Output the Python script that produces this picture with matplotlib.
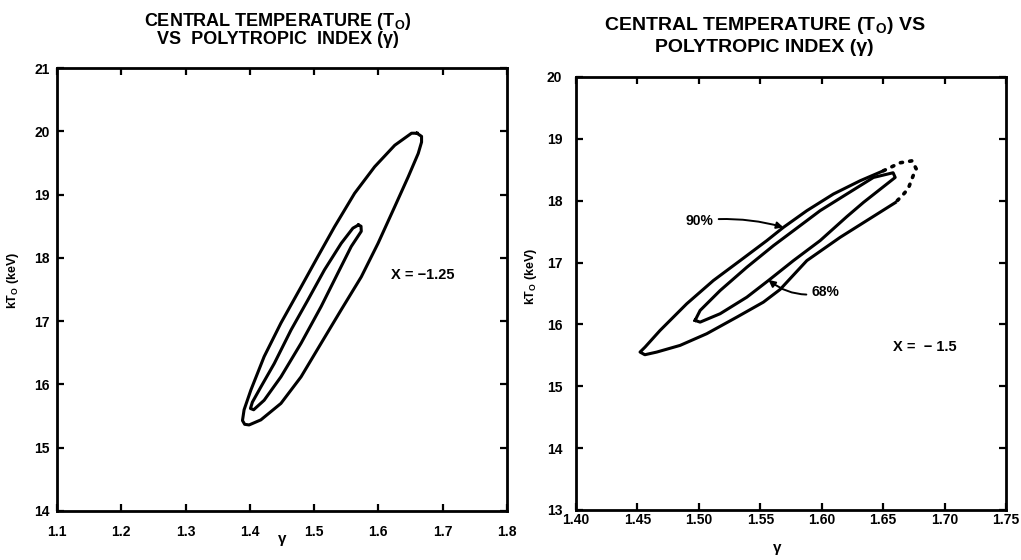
"""
Contornos de confianca: temperatura central kT0 vs indice politropico gamma.
Gera out.png (1021x560).
"""

import matplotlib
matplotlib.use("Agg")
import matplotlib.pyplot as plt

plt.rcParams["font.family"] = ["Liberation Sans", "DejaVu Sans"]
plt.rcParams["font.weight"] = "bold"
plt.rcParams["mathtext.fontset"] = "custom"
plt.rcParams["mathtext.bf"] = "Liberation Sans:bold"
plt.rcParams["mathtext.rm"] = "Liberation Sans:bold"

# --- painel esquerdo (X = -1.25) ---
left_xticks = [1.1, 1.2, 1.3, 1.4, 1.5, 1.6, 1.7, 1.8]
left_yticks = [14, 15, 16, 17, 18, 19, 20, 21]

left_outer_gamma = [1.6600, 1.6516, 1.6255, 1.5942, 1.563, 1.5317, 1.5058, 1.4797,
                    1.4484, 1.4223, 1.4016, 1.3911, 1.3886, 1.3920, 1.3989, 1.4172,
                    1.4484, 1.4797, 1.5109, 1.5422, 1.5734, 1.5995, 1.6255, 1.6464,
                    1.662, 1.6672, 1.6672, 1.6600]
left_outer_kT = [19.97, 19.97, 19.78, 19.44, 19.02, 18.49, 18.02, 17.54,
                 16.97, 16.44, 15.91, 15.60, 15.43, 15.37, 15.36, 15.44,
                 15.70, 16.12, 16.65, 17.18, 17.70, 18.23, 18.81, 19.28,
                 19.65, 19.83, 19.92, 19.97]

left_inner_gamma = [1.5690, 1.5604, 1.5422, 1.5161, 1.4901, 1.4641, 1.438, 1.4172,
                    1.4040, 1.4010, 1.4060, 1.4223, 1.4484, 1.4797, 1.5109, 1.537,
                    1.5578, 1.5734, 1.5730, 1.5690]
left_inner_kT = [18.52, 18.47, 18.23, 17.81, 17.33, 16.86, 16.33, 15.96,
                 15.72, 15.62, 15.60, 15.75, 16.12, 16.65, 17.23, 17.76,
                 18.18, 18.42, 18.50, 18.52]

# --- painel direito (X = -1.5) ---
right_xticks = [1.40, 1.45, 1.50, 1.55, 1.60, 1.65, 1.70, 1.75]
right_yticks = [13, 14, 15, 16, 17, 18, 19, 20]

# 90%: parte continua (borda inferior ate a ponta esquerda, volta pela superior)
right_outer_gamma = [1.6598, 1.6150, 1.5879, 1.5661, 1.5525, 1.5309, 1.5064, 1.4847,
                     1.4657, 1.4560, 1.4521, 1.4562, 1.4684, 1.4901, 1.5118, 1.5336,
                     1.5553, 1.5688, 1.5879, 1.6095, 1.6313, 1.6502]
right_outer_kT = [17.968, 17.408, 17.032, 16.565, 16.360, 16.118, 15.850, 15.661,
                  15.553, 15.51, 15.553, 15.634, 15.903, 16.334, 16.710, 17.032,
                  17.355, 17.569, 17.839, 18.108, 18.323, 18.484]
# 90%: ponta pontilhada
right_cap_gamma = [1.6502, 1.6638, 1.6736, 1.6769, 1.6744, 1.6704, 1.6655, 1.6598]
right_cap_kT = [18.484, 18.613, 18.645, 18.516, 18.403, 18.194, 18.081, 17.968]

right_inner_gamma = [1.4969, 1.5010, 1.5173, 1.5390, 1.5607, 1.5770, 1.5987, 1.6204,
                     1.6421, 1.6581, 1.6598, 1.6340, 1.6204, 1.5987, 1.5770, 1.5566,
                     1.5390, 1.5173, 1.5010, 1.4969]
right_inner_kT = [16.065, 16.226, 16.548, 16.924, 17.274, 17.516, 17.839, 18.108,
                  18.376, 18.452, 18.376, 17.973, 17.742, 17.355, 17.032, 16.710,
                  16.440, 16.173, 16.037, 16.065]

LW = 2.2
TICK_FS = 10


def style_axes(ax, xticks, yticks, xlabels, xpad, ypad):
    ax.set_xlim(xticks[0], xticks[-1])
    ax.set_ylim(yticks[0], yticks[-1])
    ax.set_xticks(xticks)
    ax.set_xticklabels(xlabels)
    ax.set_yticks(yticks)
    ax.set_yticklabels([str(v) for v in yticks])
    ax.tick_params(direction="in", top=True, right=True, length=5, width=1.6,
                   labelsize=TICK_FS)
    ax.tick_params(axis="x", pad=xpad)
    ax.tick_params(axis="y", pad=ypad)
    for s in ax.spines.values():
        s.set_linewidth(2.0)
    ax.set_xlabel("γ", fontsize=11, fontweight="bold")
    ax.set_ylabel(r"kT$_\mathbf{O}$ (keV)", fontsize=9, fontweight="bold")


fig = plt.figure(figsize=(10.21, 5.6), dpi=100)

# painel esquerdo
ax1 = fig.add_axes([0.0558, 0.0875, 0.4407, 0.791])
ax1.plot(left_outer_gamma, left_outer_kT, color="k", lw=LW)
ax1.plot(left_inner_gamma, left_inner_kT, color="k", lw=LW)
style_axes(ax1, left_xticks, left_yticks, [f"{v:.1f}" for v in left_xticks], 10, 5)
ax1.xaxis.set_label_coords(0.5, -0.047)
ax1.yaxis.set_label_coords(-0.080, 0.52)
ax1.text(1.62, 17.73, "X = −1.25", fontsize=10.5, fontweight="bold", va="center")
fig.text(0.272, 0.962, r"CENTRAL TEMPERATURE (T$_\mathbf{O}$)", ha="center",
         va="center", fontsize=13, fontweight="bold")
fig.text(0.272, 0.929, "VS  POLYTROPIC  INDEX (γ)", ha="center", va="center",
         fontsize=13, fontweight="bold")

# painel direito
ax2 = fig.add_axes([0.5642, 0.0893, 0.4211, 0.7732])
ax2.plot(right_outer_gamma, right_outer_kT, color="k", lw=LW)
ax2.plot(right_cap_gamma, right_cap_kT, color="k", lw=2.6,
         linestyle=(0, (0.6, 2.0)), dash_capstyle="round")
ax2.plot(right_inner_gamma, right_inner_kT, color="k", lw=LW)
style_axes(ax2, right_xticks, right_yticks, [f"{v:.2f}" for v in right_xticks], 2, 10)
ax2.xaxis.set_label_coords(0.467, -0.072)
ax2.yaxis.set_label_coords(-0.086, 0.54)
ax2.text(1.658, 15.63, "X =  − 1.5", fontsize=10.5, fontweight="bold", va="center")

ax2.annotate("90%", xy=(1.5688, 17.57), xytext=(1.5116, 17.68), ha="right",
             va="center", fontsize=10, fontweight="bold",
             arrowprops=dict(arrowstyle="-|>", color="k", lw=1.4,
                             connectionstyle="arc3,rad=-0.1", shrinkA=2, shrinkB=0))
ax2.annotate("68%", xy=(1.5566, 16.72), xytext=(1.592, 16.52), ha="left",
             va="center", fontsize=10, fontweight="bold",
             arrowprops=dict(arrowstyle="-|>", color="k", lw=1.4,
                             connectionstyle="arc3,rad=-0.25", shrinkA=2, shrinkB=0))

fig.text(0.749, 0.955, r"CENTRAL TEMPERATURE (T$_\mathbf{O}$) VS", ha="center",
         va="center", fontsize=14, fontweight="bold")
fig.text(0.749, 0.916, "POLYTROPIC INDEX (γ)", ha="center", va="center",
         fontsize=14, fontweight="bold")

fig.savefig("out.png", dpi=100)
